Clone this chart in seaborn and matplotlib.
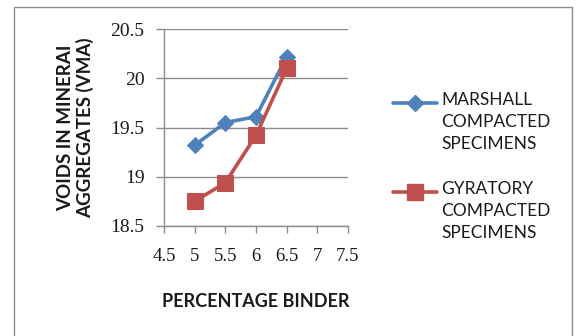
import matplotlib
matplotlib.use("Agg")
import matplotlib.pyplot as plt
from matplotlib.lines import Line2D
from matplotlib.patches import Rectangle
import seaborn as sns
import pandas as pd

binder = [5, 5.5, 6, 6.5]
marshall_vma = [19.32, 19.55, 19.61, 20.22]
gyratory_vma = [18.75, 18.94, 19.42, 20.10]
series_names = ["MARSHALL\nCOMPACTED\nSPECIMENS", "GYRATORY\nCOMPACTED\nSPECIMENS"]
x_ticks = [4.5, 5, 5.5, 6, 6.5, 7, 7.5]
y_ticks = [18.5, 19, 19.5, 20, 20.5]

blue = "#4F81BD"
red = "#C0504D"
ink = "#1a1a1a"
rule = "#8c8c8c"

sns.set_theme(style="white")
plt.rcParams["font.family"] = ["Lato", "DejaVu Sans"]

df = pd.DataFrame({
    "binder": binder * 2,
    "vma": marshall_vma + gyratory_vma,
    "series": [series_names[0]] * 4 + [series_names[1]] * 4,
})

fig = plt.figure(figsize=(5.81, 3.36), dpi=100)
fig.patch.set_facecolor("white")
fig.add_artist(Rectangle((14 / 581, -0.02), (572 - 14) / 581, 1 - 7 / 336 + 0.02,
                         transform=fig.transFigure, fill=False,
                         edgecolor=rule, linewidth=1.0))

ax = fig.add_axes([164 / 581, 1 - 226 / 336, (348 - 164) / 581, (226 - 29) / 336])

sns.lineplot(data=df[df.series == series_names[0]], x="binder", y="vma", ax=ax,
             color=blue, linewidth=2.6, marker="D", markersize=8,
             markeredgecolor=blue, legend=False)
sns.lineplot(data=df[df.series == series_names[1]], x="binder", y="vma", ax=ax,
             color=red, linewidth=2.6, marker="s", markersize=11,
             markeredgecolor=red, legend=False)

ax.set_xlim(4.5, 7.5)
ax.set_ylim(18.5, 20.5)
ax.set_xticks(x_ticks)
ax.set_xticklabels([f"{v:g}" for v in x_ticks], family=["Liberation Serif"], fontsize=13.5)
ax.set_yticks(y_ticks)
ax.set_yticklabels([f"{v:g}" for v in y_ticks], family=["Liberation Serif"], fontsize=14)
ax.yaxis.grid(True, color=rule, linewidth=1.0)
ax.xaxis.grid(False)
for side in ["top", "right"]:
    ax.spines[side].set_visible(False)
for side in ["left", "bottom"]:
    ax.spines[side].set_color(rule)
    ax.spines[side].set_linewidth(1.0)
ax.tick_params(axis="x", bottom=True, direction="out", length=5, width=1.0,
               color=rule, pad=11, labelcolor=ink)
ax.tick_params(axis="y", left=True, direction="out", length=6, width=1.0,
               color=rule, pad=8, labelcolor=ink)

ax.set_xlabel("PERCENTAGE BINDER", fontsize=13, fontweight="bold", labelpad=20,
              color=ink)
ax.set_ylabel("VOIDS IN MINERAI\nAGGREGATES (VMA)", fontsize=13.5, fontweight="bold",
              labelpad=12, color=ink, linespacing=1.1)

# legend entries drawn beside the plot
for name, color, marker, msize, y in [(series_names[0], blue, "D", 8, 103),
                                      (series_names[1], red, "s", 11, 192)]:
    yf = 1 - y / 336
    fig.add_artist(Line2D([393 / 581, 437 / 581], [yf, yf], transform=fig.transFigure,
                          color=color, linewidth=2.6))
    fig.add_artist(Line2D([415 / 581], [yf], transform=fig.transFigure, color=color,
                          marker=marker, markersize=msize, markeredgecolor=color))
    fig.text(441 / 581, yf + 11 / 336, name, fontsize=12.5, va="top", ha="left",
             color=ink, linespacing=1.45)

fig.savefig("out.png", dpi=100)
